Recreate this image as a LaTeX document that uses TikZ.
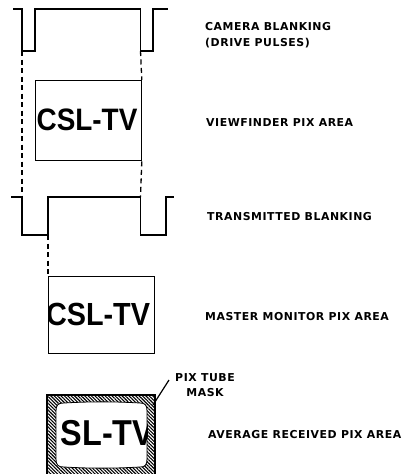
\documentclass[tikz,border=0pt]{standalone}
\usepackage{fontspec}
\usepackage{graphicx}
\setmainfont{Liberation Sans}
\newfontfamily\lblfont[LetterSpace=5]{DejaVu Sans Bold}
\usetikzlibrary{patterns.meta}
\newcommand\screenpath{(56,411) .. controls (56,405) and (58,403) .. (64,403)
  .. controls (90,401.5) and (114,401.5) .. (140,403)
  .. controls (145,403) and (147,405) .. (147,411) -- (147,459)
  .. controls (147,465) and (145,467) .. (140,467)
  .. controls (114,468.5) and (90,468.5) .. (64,467)
  .. controls (58,467) and (56,465) .. (56,459) -- cycle}
\begin{document}
\begin{tikzpicture}[x=1pt,y=-1pt,
  wave/.style={line width=1.4pt, line join=miter},
  guide/.style={dash pattern=on 5pt off 3.5pt, line width=1.3pt},
  pixbox/.style={draw, line width=1.3pt, inner sep=0pt, anchor=north west},
  lbl/.style={anchor=west, inner sep=0pt, font=\lblfont\fontsize{10.9}{16}\selectfont, align=left},
  big/.style={inner sep=0pt, font=\bfseries\fontsize{#1}{#1}\selectfont},
  big/.default=31]
\useasboundingbox (0,0) rectangle (419,474);

% camera blanking waveform
\draw[wave] (13,9) -- (22,9) -- (22,51) coordinate (w1l) -- (35,51) -- (35,9)
  -- (140.5,9) -- (140.5,51) coordinate (w1r) -- (153,51) -- (153,9) -- (168,9);

% viewfinder box
\node[pixbox, minimum width=105.5pt, minimum height=80pt] (vf) at (35,80) {};
\node[big] (vft) at (87,120) {\scalebox{0.9}[1]{CSL-TV}};

% transmitted blanking waveform
\draw[wave] (11,197) -- (22,197) coordinate (w2l) -- (22,235) -- (48,235) coordinate (w2f)
  -- (48,197) -- (140.5,197) coordinate (w2r) -- (140.5,235) -- (166,235) -- (166,197) -- (174,197);

% dashed guides
\draw[guide] (w1l) -- (w2l);
\draw[guide] (w1r) -- (vf.north east);
\draw[guide] (vf.south east) -- (w2r);

% master monitor box
\node[pixbox, minimum width=106pt, minimum height=77pt] (mm) at (48,276) {};
\draw[guide] (w2f) -- (mm.north west);
\begin{scope}
  \clip (48,276) rectangle (154,353);
  \node[big=32] (mmt) at (98,314) {\scalebox{0.9}[1]{CSL-TV}};
\end{scope}

% average received picture with tube mask
\fill[pattern={Lines[angle=-45,distance=2.4pt,line width=1.1pt]}] (47,395) rectangle (155,484);
\draw[line width=1.3pt] (47,395) rectangle (155,484);
\fill[white] \screenpath;
\begin{scope}
  \clip \screenpath;
  \node[big=36] (avt) at (107.5,433) {\scalebox{0.9}[1]{SL-TV}};
\end{scope}
\draw[line width=0.8pt] \screenpath;

% labels
\node[lbl] (cam) at (205,35) {CAMERA BLANKING\\(DRIVE PULSES)};
\node[lbl] (vfl) at (206,123) {VIEWFINDER PIX AREA};
\node[lbl] (txl) at (207,217) {TRANSMITTED BLANKING};
\node[lbl] (mml) at (205,317) {MASTER MONITOR PIX AREA};
\node[lbl] (avl) at (208,435) {AVERAGE RECEIVED PIX AREA};
\node[lbl, align=center, anchor=center, font=\lblfont\fontsize{10.9}{15}\selectfont] (mask) at (205,385) {PIX TUBE\\MASK};
\coordinate (mk) at (153,405);
\coordinate (mtip) at (169,380);
\draw[line width=1.2pt] (mk) -- (mtip);
\end{tikzpicture}
\end{document}
